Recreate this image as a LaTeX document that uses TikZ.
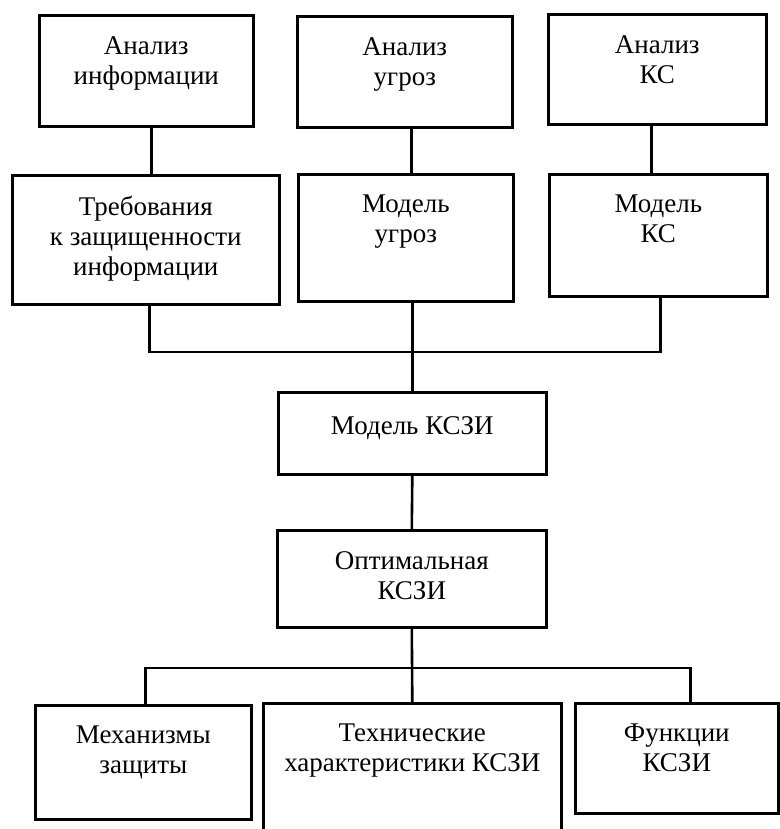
\documentclass[tikz,border=0pt]{standalone}
\usepackage{fontspec}
\setmainfont{Liberation Serif}
\begin{document}
\begin{tikzpicture}[x=1pt,y=-1pt,
  box/.style={draw, line width=2.6pt, inner sep=0pt, anchor=north west},
  lbl/.style={anchor=north, inner sep=0pt, align=center, yshift=-22pt,
    font=\fontsize{27}{30}\selectfont, execute at begin node=\strut},
  conn/.style={line width=2.6pt}]
\useasboundingbox (0,0) rectangle (779,829);
% boxes
\node[box, minimum width=214pt, minimum height=111pt] (a1) at (38,14) {};
\node[box, minimum width=215pt, minimum height=111pt] (a2) at (296,15) {};
\node[box, minimum width=218pt, minimum height=110pt] (a3) at (547,13) {};
\node[box, minimum width=267pt, minimum height=129pt] (b1) at (11,174) {};
\node[box, minimum width=215pt, minimum height=127pt] (b2) at (297,173) {};
\node[box, minimum width=218pt, minimum height=122pt] (b3) at (548,173) {};
\node[box, minimum width=268pt, minimum height=82pt] (m) at (277,391) {};
\node[box, minimum width=269pt, minimum height=97pt] (o) at (276,529) {};
\node[box, minimum width=216pt, minimum height=114pt] (c1) at (34,704) {};
\node[box, minimum width=298pt, minimum height=134pt] (c2) at (262,702) {};
\node[box, minimum width=203pt, minimum height=110pt] (c3) at (574,702) {};
% labels
\node[lbl] (ta1) at (a1.north) {Анализ\\информации};
\node[lbl] (ta2) at (a2.north) {Анализ\\угроз};
\node[lbl] (ta3) at (a3.north) {Анализ\\КС};
\node[lbl] (tb1) at (b1.north) {Требования\\к защищенности\\информации};
\node[lbl] (tb2) at (b2.north) {Модель\\угроз};
\node[lbl] (tb3) at (b3.north) {Модель\\КС};
\node[lbl] (tm) at (m.north) {Модель КСЗИ};
\node[lbl] (to) at (o.north) {Оптимальная\\КСЗИ};
\node[lbl] (tc1) at (c1.north) {Механизмы\\защиты};
\node[lbl] (tc2) at (c2.north) {Технические\\характеристики КСЗИ};
\node[lbl] (tc3) at (c3.north) {Функции\\КСЗИ};
% connectors
\draw[conn] ([xshift=5pt]a1.south) -- ([xshift=5pt]a1.south |- b1.north);
\draw[conn] ([xshift=6.5pt]a2.south) -- ([xshift=6.5pt]a2.south |- b2.north);
\draw[conn] ([xshift=-6pt]a3.south) -- ([xshift=-6pt]a3.south |- b3.north);
\coordinate (bus1) at (411,352);
\draw[conn] ([xshift=3.5pt]b1.south) |- (bus1) -| ([xshift=2pt]b3.south);
\draw[conn] ([xshift=6.5pt]b2.south) -- (m.north);
\draw[conn] (m.south) -- (o.north);
\coordinate (bus2) at (411,668);
\draw[conn] (o.south) -- (c2.north);
\draw[conn] ([xshift=2pt]c1.north) |- (bus2) -| ([xshift=13.5pt]c3.north);
\end{tikzpicture}
\end{document}
